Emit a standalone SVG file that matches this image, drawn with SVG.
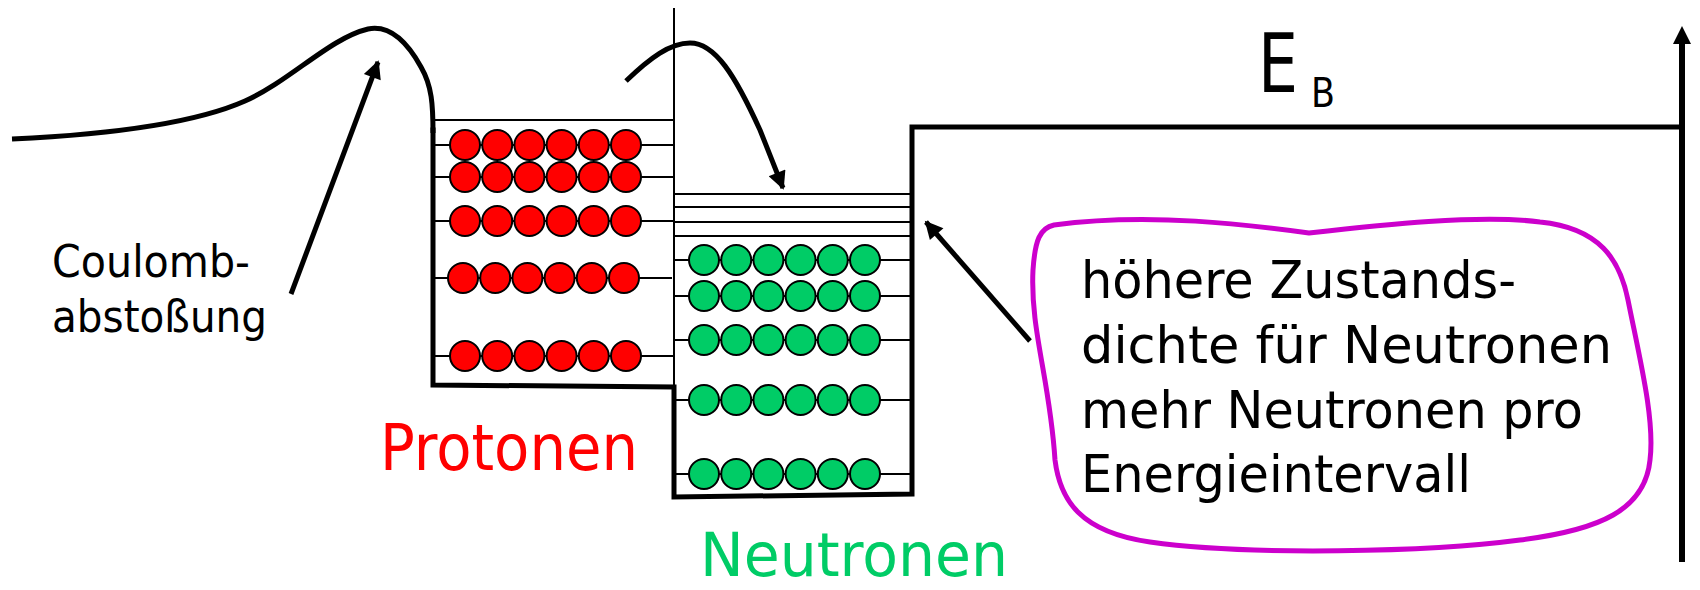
<svg xmlns="http://www.w3.org/2000/svg" width="1700" height="590" viewBox="0 0 1700 590">
<style>
.thick{fill:none;stroke:#000;stroke-width:5;stroke-linecap:square;stroke-linejoin:miter}
.thin{fill:none;stroke:#000;stroke-width:2}
.p{fill:#ff0000;stroke:#000;stroke-width:2}
.n{fill:#00cc66;stroke:#000;stroke-width:2}
.arr{fill:none;stroke:#000;stroke-width:5}
.t{font-family:"DejaVu Sans","Liberation Sans",sans-serif;fill:#000}
</style>
<defs>
<marker id="ah" viewBox="0 0 10 10" refX="9" refY="5" markerWidth="4.4" markerHeight="3.6" orient="auto" markerUnits="strokeWidth">
<path d="M0,0 L10,5 L0,10 Z" fill="#000"/>
</marker>
<g id="prow"><circle class="p" cx="0" cy="0" r="15"/><circle class="p" cx="32.2" cy="0" r="15"/><circle class="p" cx="64.4" cy="0" r="15"/><circle class="p" cx="96.6" cy="0" r="15"/><circle class="p" cx="128.8" cy="0" r="15"/><circle class="p" cx="161" cy="0" r="15"/></g>
<g id="nrow"><circle class="n" cx="0" cy="0" r="15"/><circle class="n" cx="32.2" cy="0" r="15"/><circle class="n" cx="64.4" cy="0" r="15"/><circle class="n" cx="96.6" cy="0" r="15"/><circle class="n" cx="128.8" cy="0" r="15"/><circle class="n" cx="161" cy="0" r="15"/></g>
</defs>
<rect width="1700" height="590" fill="#fff"/>

<g id="potential">
<path class="thick" style="stroke-linecap:butt" d="M12,139 C120,134 200,121 245,101 C290,81 330,38 368,29 C388,25 405,38 421,67 C432,86 433,105 433,133"/>
<path class="thick" d="M433,130 L433,385 L674,387 L674,497 L912,494 L912,127 L1682,127"/>
<line class="thin" x1="674" y1="8" x2="674" y2="386"/>
</g>

<g id="protons">
<line class="thin" x1="433" y1="120" x2="675" y2="120"/>
<line class="thin" x1="433" y1="145" x2="674" y2="145"/>
<line class="thin" x1="433" y1="177" x2="674" y2="177"/>
<line class="thin" x1="433" y1="221" x2="674" y2="221"/>
<line class="thin" x1="433" y1="278" x2="672" y2="278"/>
<line class="thin" x1="433" y1="356" x2="674" y2="356"/>
<use href="#prow" x="465" y="145"/>
<use href="#prow" x="465" y="177"/>
<use href="#prow" x="465" y="221"/>
<use href="#prow" x="463" y="278"/>
<use href="#prow" x="465" y="356"/>
</g>

<g id="neutrons">
<line class="thin" x1="674" y1="194" x2="912" y2="194"/>
<line class="thin" x1="674" y1="207" x2="912" y2="207"/>
<line class="thin" x1="674" y1="222" x2="912" y2="222"/>
<line class="thin" x1="674" y1="236" x2="912" y2="236"/>
<line class="thin" x1="674" y1="260" x2="912" y2="260"/>
<line class="thin" x1="674" y1="296" x2="912" y2="296"/>
<line class="thin" x1="674" y1="340" x2="912" y2="340"/>
<line class="thin" x1="674" y1="400" x2="912" y2="400"/>
<line class="thin" x1="674" y1="474" x2="912" y2="474"/>
<use href="#nrow" x="704" y="260"/>
<use href="#nrow" x="704" y="296"/>
<use href="#nrow" x="704" y="340"/>
<use href="#nrow" x="704" y="400"/>
<use href="#nrow" x="704" y="474"/>
</g>

<g id="axis">
<line x1="1682" y1="562" x2="1682" y2="40" stroke="#000" stroke-width="6"/>
<path d="M1682,26 L1691,44 L1673,44 Z" fill="#000"/>
<text class="t"><tspan x="1258" y="92" font-size="82" textLength="40" lengthAdjust="spacingAndGlyphs">E</tspan><tspan x="1311" y="107" font-size="41" textLength="24" lengthAdjust="spacingAndGlyphs">B</tspan></text>
</g>

<g id="connectors">
<line class="arr" x1="291" y1="294" x2="378" y2="62" marker-end="url(#ah)"/>
<path class="arr" d="M626,81 C650,58 670,43 690,43 C715,43 735,75 760,130 L783,188" marker-end="url(#ah)"/>
<line class="arr" x1="1030" y1="341" x2="926" y2="222" marker-end="url(#ah)"/>
</g>

<g id="coulomb-label">
<text class="t" x="52" y="277" font-size="44" textLength="198" lengthAdjust="spacingAndGlyphs">Coulomb-</text>
<text class="t" x="52" y="332" font-size="44" textLength="215" lengthAdjust="spacingAndGlyphs">abstoßung</text>
</g>

<g id="protonen-label">
<text class="t" x="380" y="470" font-size="64" style="fill:#ff0000" textLength="258" lengthAdjust="spacingAndGlyphs">Protonen</text>
</g>

<g id="neutronen-label">
<text class="t" x="700" y="576" font-size="60" style="fill:#00cc66" textLength="308" lengthAdjust="spacingAndGlyphs">Neutronen</text>
</g>

<g id="bubble">
<path fill="#fff" stroke="#cc00cc" stroke-width="5" d="M1054,225 C1150,212 1250,225 1309,233 C1380,225 1480,214 1540,222 C1600,228 1620,260 1628,300 C1640,360 1655,420 1650,460 C1645,510 1600,530 1520,540 C1430,552 1250,556 1150,542 C1080,532 1060,500 1055,460 C1050,380 1030,330 1033,270 C1035,240 1040,228 1054,225 Z"/>
<text class="t" x="1081" y="298" font-size="51" textLength="435" lengthAdjust="spacingAndGlyphs">höhere Zustands-</text>
<text class="t" x="1081" y="363" font-size="51" textLength="531" lengthAdjust="spacingAndGlyphs">dichte für Neutronen</text>
<text class="t" x="1081" y="428" font-size="51" textLength="502" lengthAdjust="spacingAndGlyphs">mehr Neutronen pro</text>
<text class="t" x="1081" y="492" font-size="51" textLength="390" lengthAdjust="spacingAndGlyphs">Energieintervall</text>
</g>
</svg>
